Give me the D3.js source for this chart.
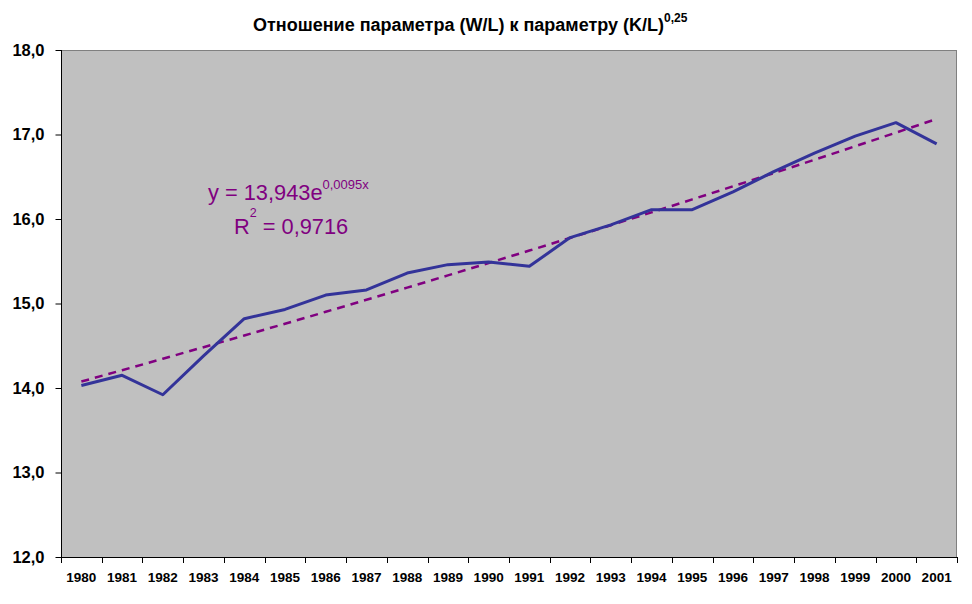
<!DOCTYPE html>
<html><head><meta charset="utf-8">
<script src="https://cdn.jsdelivr.net/npm/d3@7"></script>
<style>body{margin:0;background:#fff}</style>
</head><body>
<svg id="c" width="972" height="604"></svg>
<script>
const years = [1980,1981,1982,1983,1984,1985,1986,1987,1988,1989,1990,1991,1992,1993,1994,1995,1996,1997,1998,1999,2000,2001];
const values = [14.03,14.15,13.92,14.38,14.82,14.93,15.10,15.16,15.36,15.46,15.49,15.44,15.78,15.93,16.11,16.11,16.32,16.56,16.78,16.98,17.14,16.89];
const trendA = 13.943, trendB = 0.0095;
const yTicks = [12,13,14,15,16,17,18];

const svg = d3.select('#c');
const L=61, R=957, T=50, B=557;
const x = d3.scaleBand().domain(years).range([L,R]);
const y = d3.scaleLinear().domain([12,18]).range([B,T]);

svg.append('rect').attr('x',L).attr('y',T).attr('width',R-L).attr('height',B-T).attr('fill','#c0c0c0');
svg.append('line').attr('x1',L).attr('x2',R).attr('y1',T+0.5).attr('y2',T+0.5).attr('stroke','#808080');
svg.append('line').attr('x1',R-0.5).attr('x2',R-0.5).attr('y1',T).attr('y2',B).attr('stroke','#808080');

const ya = svg.append('g').attr('transform',`translate(${L+0.5},0)`)
  .call(d3.axisLeft(y).tickValues(yTicks).tickSize(6).tickPadding(11).tickFormat(d=>d3.format('.1f')(d).replace('.',',')));
ya.select('.domain').attr('stroke','#000').attr('d',`M0,${T}V${B}`);
ya.selectAll('text').attr('font-family','Liberation Sans, Arial, sans-serif').attr('font-size','16.5px').attr('font-weight','bold').attr('fill','#000');

const xa = svg.append('g').attr('transform',`translate(0,${B+0.5})`)
  .call(d3.axisBottom(x).tickSize(0).tickPadding(15));
xa.select('.domain').attr('stroke','#000').attr('d',`M${L},0H${R}`);
xa.selectAll('text').attr('font-family','Liberation Sans, Arial, sans-serif').attr('font-size','13.5px').attr('font-weight','bold').attr('fill','#000');
// tick marks at category boundaries
svg.append('g').selectAll('line').data(years.concat([null])).join('line')
  .attr('x1',(d,i)=>Math.round(L+i*x.step())+0.5).attr('x2',(d,i)=>Math.round(L+i*x.step())+0.5)
  .attr('y1',B).attr('y2',B+6).attr('stroke','#000');

const cx = d => x(d)+x.bandwidth()/2;
// trend
const trend = years.map((d,i)=>[cx(d), y(trendA*Math.exp(trendB*(i+1)))]);
svg.append('path').attr('d',d3.line()(trend)).attr('fill','none').attr('stroke','#800080').attr('stroke-width',2.5).attr('stroke-dasharray','8,6');
// data line
svg.append('path').attr('d',d3.line().x((d,i)=>cx(years[i])).y(d=>y(d))(values)).attr('fill','none').attr('stroke','#333399').attr('stroke-width',3).attr('stroke-linejoin','round');

// equation
const eq = svg.append('text').attr('x',208).attr('y',200).attr('font-family','Liberation Sans, Arial, sans-serif').attr('font-size','21.8px').attr('fill','#800080');
eq.append('tspan').text('y = 13,943e');
eq.append('tspan').attr('dy',-11).attr('font-size','13px').text('0,0095x');
const r2 = svg.append('text').attr('x',234).attr('y',234).attr('font-family','Liberation Sans, Arial, sans-serif').attr('font-size','21.8px').attr('fill','#800080');
r2.append('tspan').text('R');
r2.append('tspan').attr('dy',-17).attr('font-size','12.5px').text('2');
r2.append('tspan').attr('dy',17).text(' = 0,9716');

// title
const tt = svg.append('text').attr('x',253).attr('y',31).attr('font-family','Liberation Sans Narrow, Arial Narrow, Liberation Sans, sans-serif').attr('font-size','18px').attr('font-weight','bold').attr('fill','#000');
tt.append('tspan').text('Отношение параметра (W/L) к параметру (K/L)');
tt.append('tspan').attr('dy',-9).attr('font-size','12px').text('0,25');
</script>
</body></html>
